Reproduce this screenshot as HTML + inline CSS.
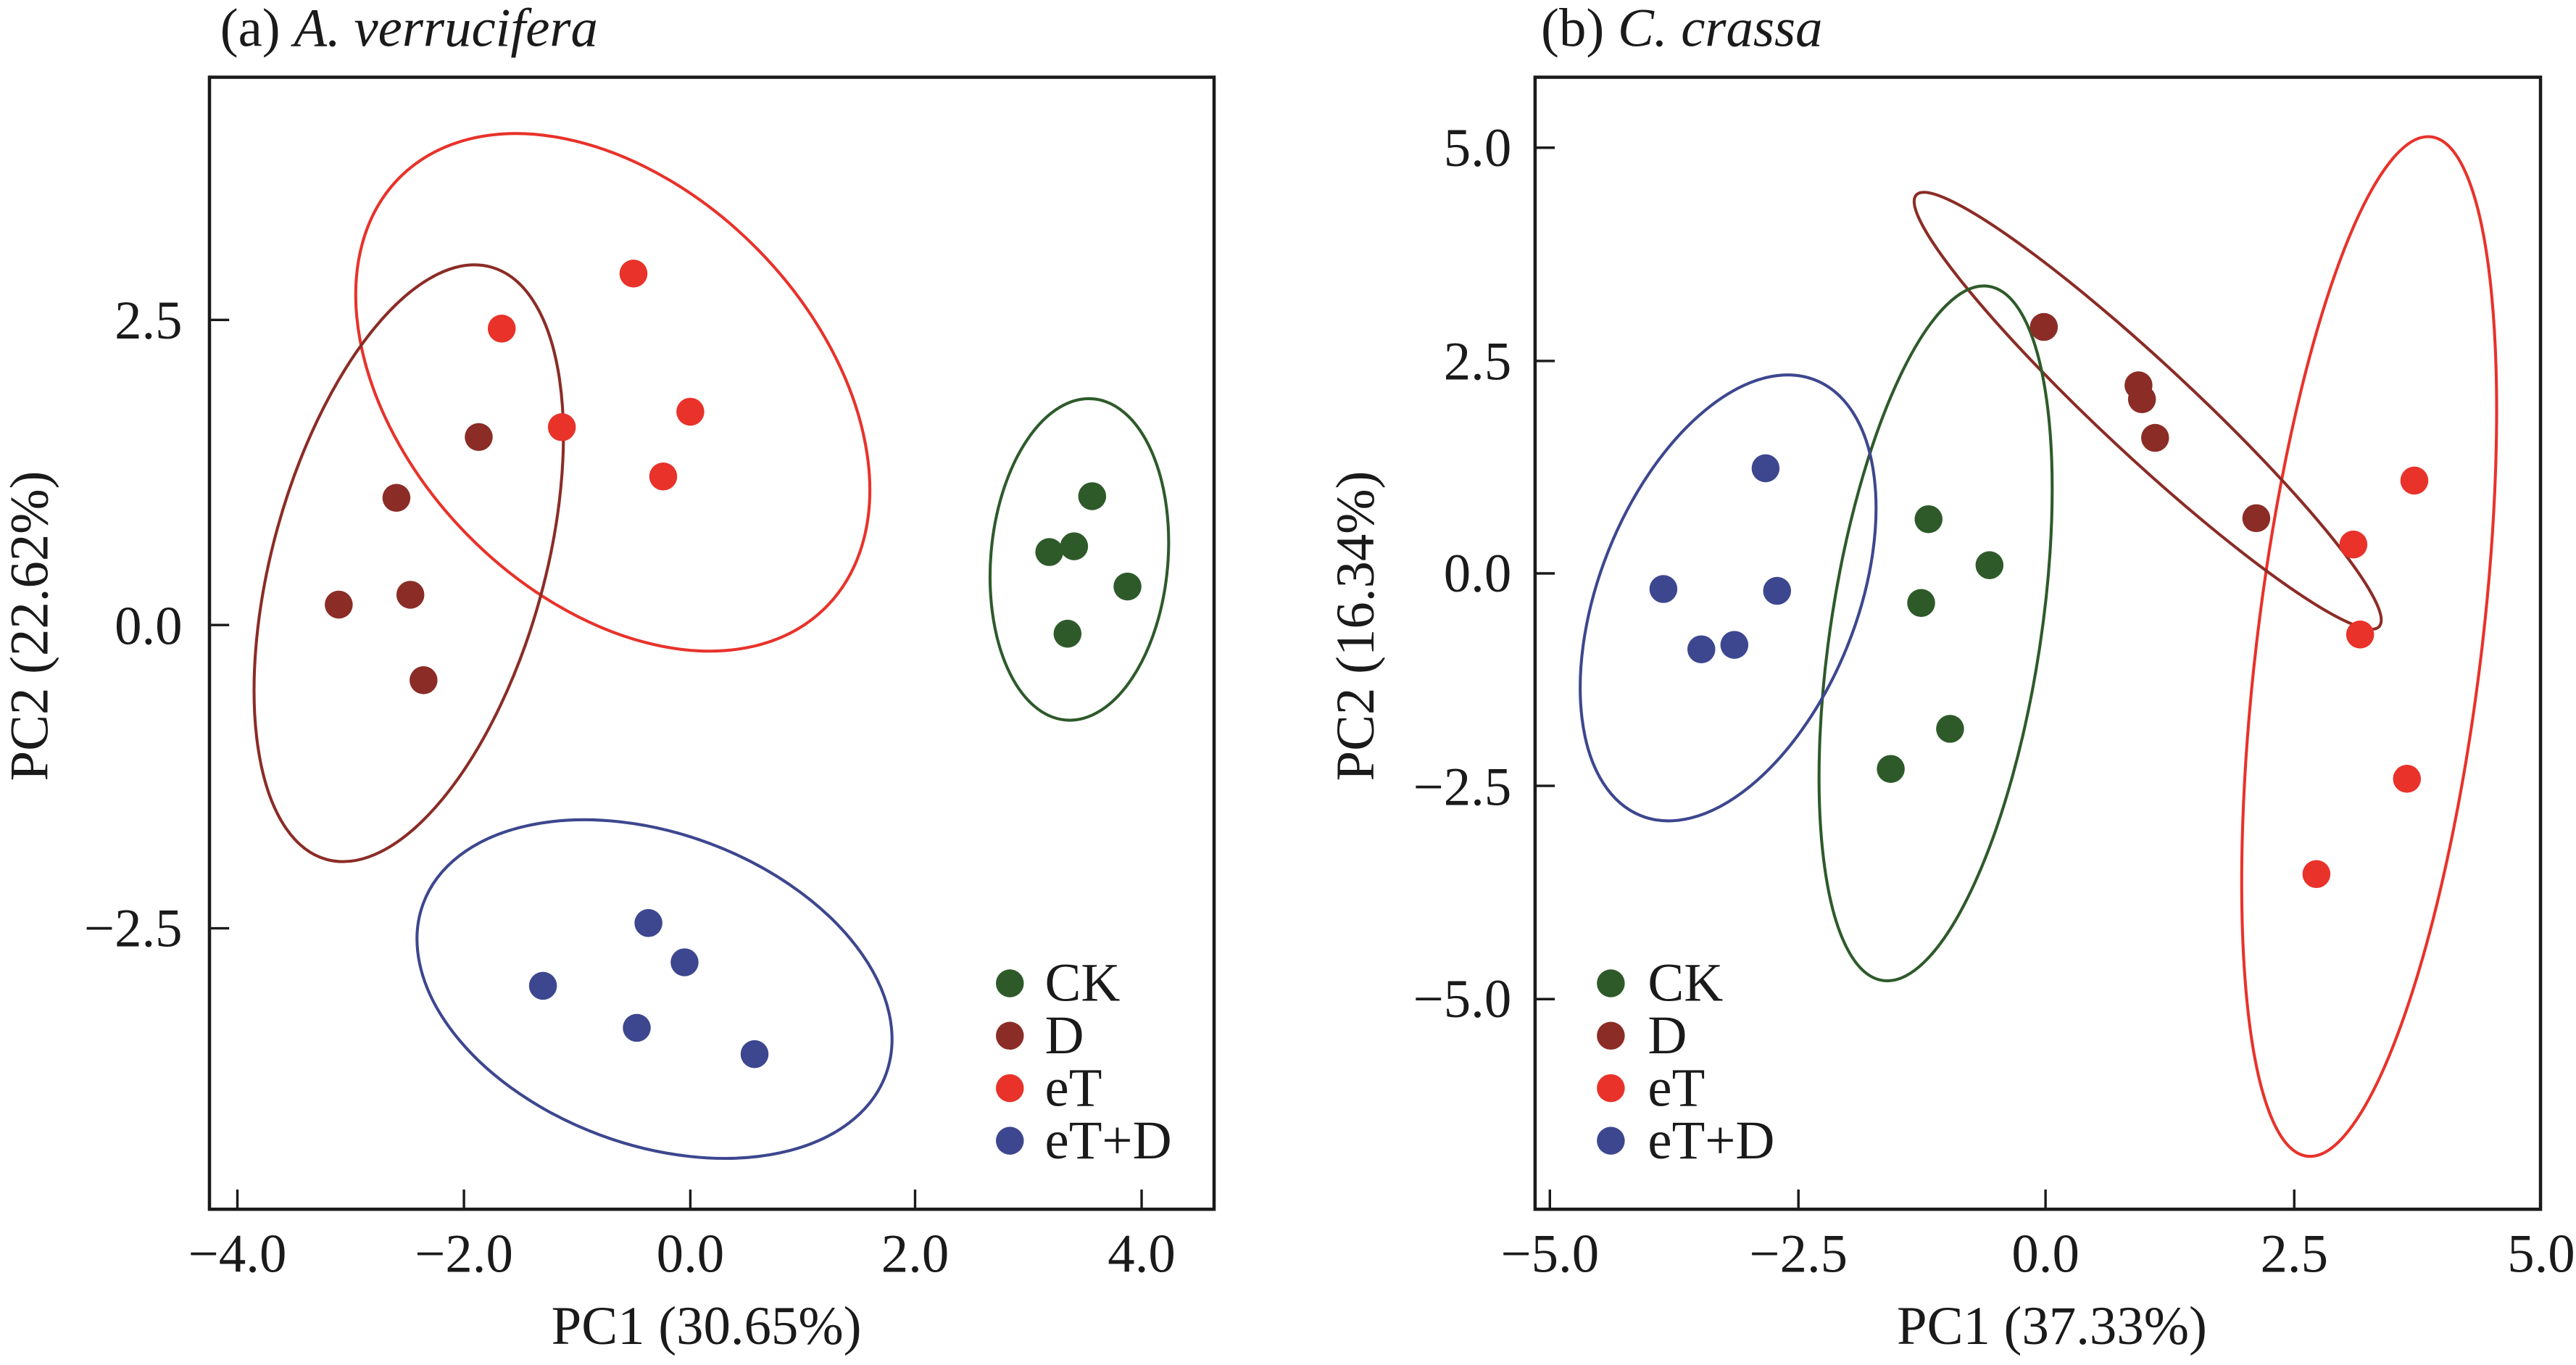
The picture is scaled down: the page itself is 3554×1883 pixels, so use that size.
<!DOCTYPE html>
<html><head><meta charset="utf-8"><style>
html,body{margin:0;padding:0;background:#fff;}
svg{display:block;}
text{font-family:"Liberation Serif",serif;fill:#1a1a1a;}
</style></head><body>
<svg width="3554" height="1883" viewBox="0 0 1568 830.8" preserveAspectRatio="none" xmlns="http://www.w3.org/2000/svg">
<g font-size="33">
<!-- Panel a -->
<text x="134" y="28">(a) <tspan font-style="italic">A. verrucifera</tspan></text>
<rect x="127.5" y="47" width="611.5" height="689" fill="none" stroke="#1a1a1a" stroke-width="2"/>
<g stroke="#1a1a1a" stroke-width="1.5">
<line x1="144.5" y1="736" x2="144.5" y2="724"/><line x1="282.4" y1="736" x2="282.4" y2="724"/><line x1="420.2" y1="736" x2="420.2" y2="724"/><line x1="557" y1="736" x2="557" y2="724"/><line x1="694.9" y1="736" x2="694.9" y2="724"/>
<line x1="127.5" y1="194.7" x2="139.5" y2="194.7"/><line x1="127.5" y1="380.4" x2="139.5" y2="380.4"/><line x1="127.5" y1="565" x2="139.5" y2="565"/>
</g>
<g text-anchor="middle">
<text x="144.5" y="774">−4.0</text><text x="282.4" y="774">−2.0</text><text x="420.2" y="774">0.0</text><text x="557" y="774">2.0</text><text x="694.9" y="774">4.0</text>
</g>
<g text-anchor="end">
<text x="111" y="206">2.5</text><text x="111" y="392">0.0</text><text x="111" y="576">−2.5</text>
</g>
<text x="430" y="818" text-anchor="middle">PC1 (30.65%)</text>
<text transform="translate(29,381) rotate(-90)" text-anchor="middle">PC2 (22.62%)</text>
<g fill="none" stroke-width="1.8">
<ellipse cx="373" cy="238.8" rx="184.2" ry="123.9" transform="rotate(45.5 373 238.8)" stroke="#e8322a"/>
<ellipse cx="248.8" cy="342.8" rx="187.1" ry="82.7" transform="rotate(-74.45 248.8 342.8)" stroke="#8b2c26"/>
<ellipse cx="657" cy="340.5" rx="98.1" ry="53.9" transform="rotate(-85.1 657 340.5)" stroke="#2e5a2a"/>
<ellipse cx="398.4" cy="602" rx="150.1" ry="94.8" transform="rotate(20.3 398.4 602)" stroke="#3d478f"/>
</g>
<g fill="#e8322a"><circle cx="385.6" cy="166.5" r="8.5"/><circle cx="305.4" cy="200" r="8.5"/><circle cx="342" cy="260" r="8.5"/><circle cx="420.2" cy="250.6" r="8.5"/><circle cx="403.7" cy="290" r="8.5"/></g>
<g fill="#8b2c26"><circle cx="291.4" cy="266" r="8.5"/><circle cx="241.3" cy="303" r="8.5"/><circle cx="206.2" cy="368" r="8.5"/><circle cx="249.8" cy="362" r="8.5"/><circle cx="257.8" cy="414" r="8.5"/></g>
<g fill="#2e5a2a"><circle cx="664.8" cy="302" r="8.5"/><circle cx="638.7" cy="336" r="8.5"/><circle cx="653.8" cy="332.5" r="8.5"/><circle cx="686.3" cy="357" r="8.5"/><circle cx="649.8" cy="385.7" r="8.5"/></g>
<g fill="#3d478f"><circle cx="394.7" cy="561.8" r="8.5"/><circle cx="416.7" cy="585.7" r="8.5"/><circle cx="330.5" cy="600" r="8.5"/><circle cx="387.6" cy="625.6" r="8.5"/><circle cx="459.3" cy="641.6" r="8.5"/></g>
<circle cx="614.7" cy="598.5" r="8.5" fill="#2e5a2a"/><circle cx="614.7" cy="630.4" r="8.5" fill="#8b2c26"/><circle cx="614.7" cy="662.3" r="8.5" fill="#e8322a"/><circle cx="614.7" cy="694.3" r="8.5" fill="#3d478f"/>
<text x="636" y="609">CK</text><text x="636" y="641">D</text><text x="636" y="673">eT</text><text x="636" y="705">eT+D</text>

<!-- Panel b -->
<text x="938" y="28">(b) <tspan font-style="italic">C. crassa</tspan></text>
<rect x="934.4" y="47" width="612" height="689" fill="none" stroke="#1a1a1a" stroke-width="2"/>
<g stroke="#1a1a1a" stroke-width="1.5">
<line x1="943.4" y1="736" x2="943.4" y2="724"/><line x1="1094.7" y1="736" x2="1094.7" y2="724"/><line x1="1245.1" y1="736" x2="1245.1" y2="724"/><line x1="1396.5" y1="736" x2="1396.5" y2="724"/>
<line x1="934.4" y1="89.9" x2="946.4" y2="89.9"/><line x1="934.4" y1="219.7" x2="946.4" y2="219.7"/><line x1="934.4" y1="349" x2="946.4" y2="349"/><line x1="934.4" y1="478.3" x2="946.4" y2="478.3"/><line x1="934.4" y1="608.1" x2="946.4" y2="608.1"/>
</g>
<g text-anchor="middle">
<text x="943.4" y="774">−5.0</text><text x="1094.7" y="774">−2.5</text><text x="1245.1" y="774">0.0</text><text x="1396.5" y="774">2.5</text><text x="1546.8" y="774">5.0</text>
</g>
<g text-anchor="end">
<text x="920" y="101">5.0</text><text x="920" y="231">2.5</text><text x="920" y="360">0.0</text><text x="920" y="490">−2.5</text><text x="920" y="619">−5.0</text>
</g>
<text x="1249" y="818" text-anchor="middle">PC1 (37.33%)</text>
<text transform="translate(836,381) rotate(-90)" text-anchor="middle">PC2 (16.34%)</text>
<g fill="none" stroke-width="1.8">
<ellipse cx="1442.1" cy="393.5" rx="312.5" ry="68.3" transform="rotate(-83.07 1442.1 393.5)" stroke="#e8322a"/>
<ellipse cx="1307.3" cy="250" rx="192.6" ry="28" transform="rotate(43 1307.3 250)" stroke="#8b2c26"/>
<ellipse cx="1178.2" cy="385.5" rx="213.7" ry="63.9" transform="rotate(-81.3 1178.2 385.5)" stroke="#2e5a2a"/>
<ellipse cx="1051.9" cy="363.9" rx="142.8" ry="78.3" transform="rotate(-68.15 1051.9 363.9)" stroke="#3d478f"/>
</g>
<g fill="#8b2c26"><circle cx="1244.1" cy="199" r="8.5"/><circle cx="1301.7" cy="234.5" r="8.5"/><circle cx="1303.8" cy="243" r="8.5"/><circle cx="1311.8" cy="266.5" r="8.5"/><circle cx="1373.4" cy="315.4" r="8.5"/></g>
<g fill="#e8322a"><circle cx="1469.6" cy="292.5" r="8.5"/><circle cx="1432.5" cy="331.4" r="8.5"/><circle cx="1436.6" cy="386.2" r="8.5"/><circle cx="1465.1" cy="474" r="8.5"/><circle cx="1410" cy="532" r="8.5"/></g>
<g fill="#2e5a2a"><circle cx="1173.9" cy="316" r="8.5"/><circle cx="1211" cy="344" r="8.5"/><circle cx="1169.4" cy="367" r="8.5"/><circle cx="1187" cy="443.6" r="8.5"/><circle cx="1150.9" cy="468" r="8.5"/></g>
<g fill="#3d478f"><circle cx="1074.7" cy="285" r="8.5"/><circle cx="1012.5" cy="358.5" r="8.5"/><circle cx="1081.7" cy="359.6" r="8.5"/><circle cx="1035.6" cy="395.2" r="8.5"/><circle cx="1055.7" cy="392.5" r="8.5"/></g>
<circle cx="980.5" cy="598.5" r="8.5" fill="#2e5a2a"/><circle cx="980.5" cy="630.4" r="8.5" fill="#8b2c26"/><circle cx="980.5" cy="662.3" r="8.5" fill="#e8322a"/><circle cx="980.5" cy="694.3" r="8.5" fill="#3d478f"/>
<text x="1003" y="609">CK</text><text x="1003" y="641">D</text><text x="1003" y="673">eT</text><text x="1003" y="705">eT+D</text>
</g>
</svg>
</body></html>
